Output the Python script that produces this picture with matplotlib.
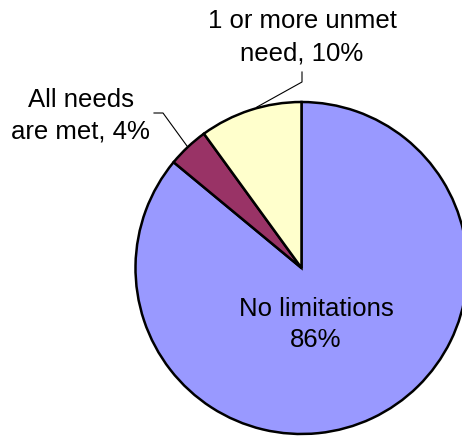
import matplotlib
matplotlib.use('Agg')
import matplotlib.pyplot as plt

plt.rcParams['font.family'] = ['Liberation Sans', 'DejaVu Sans']

# slices, clockwise from 12 o'clock
names = ['No limitations', 'All needs\nare met', '1 or more unmet\nneed']
values = [86, 4, 10]
colors = ['#9999FF', '#993366', '#FFFFCC']

W, H = 462, 439
fig = plt.figure(figsize=(W / 100, H / 100), dpi=100)
ax = fig.add_axes([0, 0, 1, 1])

cx, cy, r = 301.5, H - 269, 166
ax.pie(values, colors=colors, startangle=90, counterclock=False,
       center=(cx, cy), radius=r,
       wedgeprops=dict(edgecolor='black', linewidth=1.8))

ax.set_xlim(0, W)
ax.set_ylim(0, H)
ax.set_aspect('equal')
ax.axis('off')

fs = 18.5
ls = 1.4
# inside label (va='baseline' -> baseline of last line)
ax.text(316, H - 347.5, f'{names[0]}\n{values[0]}%', ha='center', va='baseline',
        fontsize=fs, linespacing=ls)

# outside labels with leader lines
ax.text(80.5, H - 139, f'{names[1]}, {values[1]}%', ha='center', va='baseline',
        fontsize=fs, linespacing=ls)
ax.plot([154, 163, 187], [H - 114, H - 114, H - 147], color='black', lw=0.8)

ax.text(302, H - 60, f'{names[2]}, {values[2]}%', ha='center', va='baseline',
        fontsize=fs, linespacing=ls)
ax.plot([302, 302, 257], [H - 73, H - 83, H - 108], color='black', lw=0.8)

fig.savefig('out.png', dpi=100)
